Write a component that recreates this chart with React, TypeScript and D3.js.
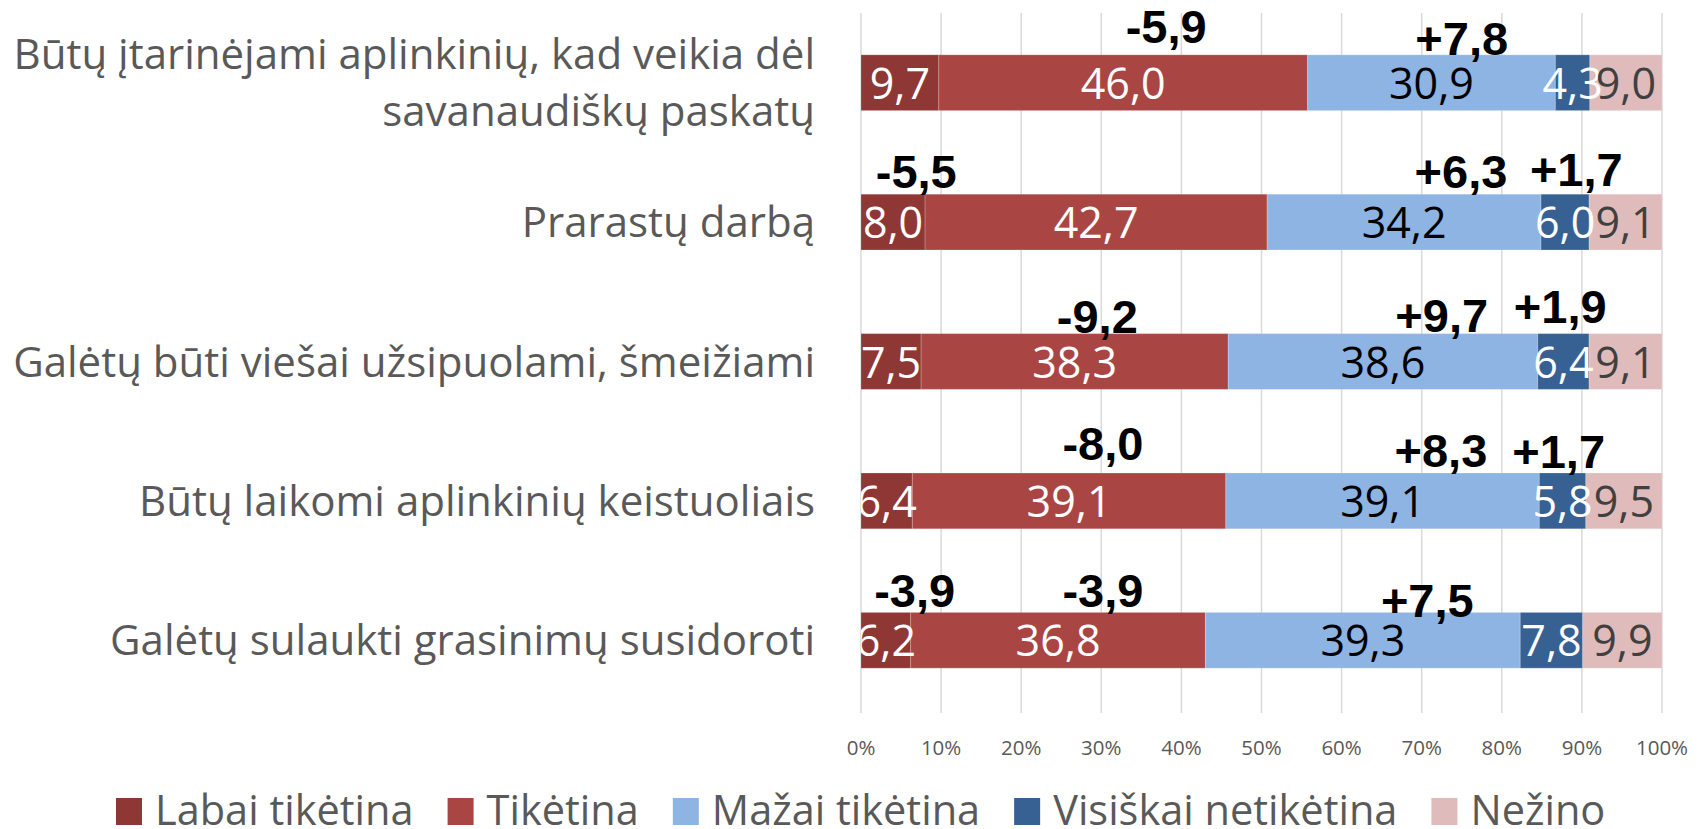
import React, { useEffect, useRef } from 'react';
import * as d3 from 'd3';

const categoryLines: string[][] = [
  ['Būtų įtarinėjami aplinkinių, kad veikia dėl', 'savanaudiškų paskatų'],
  ['Prarastų darbą'],
  ['Galėtų būti viešai užsipuolami, šmeižiami'],
  ['Būtų laikomi aplinkinių keistuoliais'],
  ['Galėtų sulaukti grasinimų susidoroti'],
];
const seriesNames = ['Labai tikėtina', 'Tikėtina', 'Mažai tikėtina', 'Visiškai netikėtina', 'Nežino'];
const labaiTiketina = [9.7, 8.0, 7.5, 6.4, 6.2];
const tiketina = [46.0, 42.7, 38.3, 39.1, 36.8];
const mazaiTiketina = [30.9, 34.2, 38.6, 39.1, 39.3];
const visiskaiNetiketina = [4.3, 6.0, 6.4, 5.8, 7.8];
const nezino = [9.0, 9.1, 9.1, 9.5, 9.9];
const tickValues = [0, 10, 20, 30, 40, 50, 60, 70, 80, 90, 100];

// change annotations: text, category index, x position (% of axis), baseline offset from bar top
const changeText = ['-5,9', '+7,8', '-5,5', '+6,3', '+1,7', '-9,2', '+9,7', '+1,9', '-8,0', '+8,3', '+1,7', '-3,9', '-3,9', '+7,5'];
const changeCategory = [0, 0, 1, 1, 1, 2, 2, 2, 3, 3, 3, 4, 4, 4];
const changeX = [38.1, 75.0, 6.9, 74.9, 89.3, 29.5, 72.5, 87.3, 30.2, 72.4, 87.1, 6.7, 30.2, 70.7];
const changeDy = [-12, 0, -6, -6, -8, -1, -2, -11, -13, -6, -5, -5, -5, 5];

const seriesColors = ['#8E3735', '#A94644', '#8EB4E3', '#376193', '#E0BBBB'];
const labelColors = ['#FFFFFF', '#FFFFFF', '#000000', '#FFFFFF', '#404040'];

const W = 1699;
const H = 829;
const FONT = "'Open Sans', 'Noto Sans', sans-serif";

export default function App() {
  const ref = useRef<SVGSVGElement>(null);

  useEffect(() => {
    const svg = d3.select(ref.current);
    svg.selectAll('*').remove();

    const left = 861, right = 1662, top = 13, bottom = 710;
    const seriesValues = [labaiTiketina, tiketina, mazaiTiketina, visiskaiNetiketina, nezino];
    const rows = categoryLines.map((_, i) => {
      const r: any = { idx: i };
      seriesNames.forEach((s, k) => (r[s] = seriesValues[k][i]));
      return r;
    });
    const stacked = d3.stack<any>().keys(seriesNames).offset(d3.stackOffsetExpand)(rows);

    const x = d3.scaleLinear().domain([0, 1]).range([left, right]);
    const y = d3.scaleBand<number>().domain(d3.range(categoryLines.length)).range([top, bottom]).paddingInner(0.6).paddingOuter(0.3);
    const fmt = (v: number) => d3.format('.1f')(v).replace('.', ',');

    // gridlines
    svg.append('g').selectAll('line').data(tickValues).join('line')
      .attr('x1', d => x(d / 100)).attr('x2', d => x(d / 100))
      .attr('y1', top).attr('y2', 713)
      .attr('stroke', '#D9D9D9').attr('stroke-width', 1.5);

    // tick labels
    svg.append('g').selectAll('text').data(tickValues).join('text')
      .attr('x', d => x(d / 100)).attr('y', 755)
      .attr('text-anchor', 'middle')
      .attr('font-family', FONT).attr('font-size', 20.5).attr('fill', '#595959')
      .text(d => `${d}%`);

    // category labels
    const cat = svg.append('g');
    categoryLines.forEach((lines, i) => {
      const cy = (y(i) as number) + y.bandwidth() / 2;
      const lh = 57;
      lines.forEach((ln, j) => {
        const off = (j - (lines.length - 1) / 2) * lh;
        cat.append('text')
          .attr('x', 815).attr('y', cy + off + 15)
          .attr('text-anchor', 'end')
          .attr('font-family', FONT).attr('font-size', 42).attr('fill', '#595959')
          .text(ln);
      });
    });

    // bars
    const bars = svg.append('g');
    stacked.forEach((s, k) => {
      bars.append('g').selectAll('rect').data(s).join('rect')
        .attr('x', d => x(d[0])).attr('width', d => x(d[1]) - x(d[0]))
        .attr('y', (_, i) => y(i) as number).attr('height', y.bandwidth())
        .attr('fill', seriesColors[k])
        .attr('stroke', 'rgba(255,255,255,0.2)').attr('stroke-width', 1);
    });

    // data labels (clipped to plot)
    svg.append('clipPath').attr('id', 'plotclip').append('rect')
      .attr('x', left).attr('y', 0).attr('width', right - left).attr('height', H);
    const lbl = svg.append('g').attr('clip-path', 'url(#plotclip)');
    stacked.forEach((s, k) => {
      lbl.append('g').selectAll('text').data(s).join('text')
        .attr('x', d => x((d[0] + d[1]) / 2))
        .attr('y', (_, i) => (y(i) as number) + y.bandwidth() / 2 + 16)
        .attr('text-anchor', 'middle')
        .attr('font-family', FONT).attr('font-size', 43).attr('fill', labelColors[k])
        .text((_, i) => fmt(seriesValues[k][i]));
    });

    // change annotations
    svg.append('g').selectAll('text').data(changeText).join('text')
      .attr('x', (_, i) => x(changeX[i] / 100))
      .attr('y', (_, i) => (y(changeCategory[i]) as number) + changeDy[i])
      .attr('text-anchor', 'middle')
      .attr('font-family', "'Liberation Sans', Arial, sans-serif")
      .attr('font-weight', 'bold').attr('font-size', 47).attr('fill', '#000')
      .text(d => d);

    // legend
    const lg = svg.append('g');
    let lx = 116;
    seriesNames.forEach((name, k) => {
      lg.append('rect').attr('x', lx).attr('y', 798).attr('width', 26).attr('height', 27).attr('fill', seriesColors[k]);
      const t = lg.append('text').attr('x', lx + 39).attr('y', 825)
        .attr('font-family', FONT).attr('font-size', 41.5).attr('fill', '#595959').text(name);
      const w = (t.node() as SVGTextElement).getComputedTextLength();
      lx += 39 + w + 34;
    });
  }, []);

  return (
    <svg ref={ref} width={W} height={H} style={{ position: 'absolute', left: 0, top: 0, background: '#fff' }} />
  );
}
